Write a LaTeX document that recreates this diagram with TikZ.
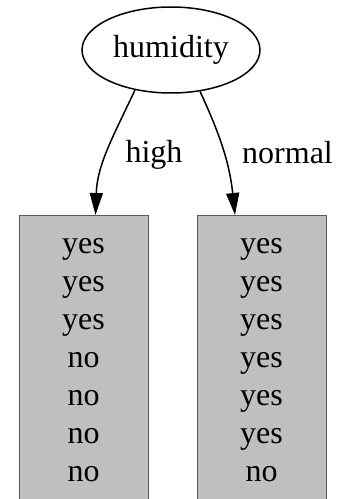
\documentclass[tikz,border=0pt]{standalone}
\usepackage{fontspec}
\setmainfont{Liberation Serif}
\usetikzlibrary{arrows.meta,positioning,shapes.geometric}

\begin{document}
\begin{tikzpicture}[
	x=1pt, y=1pt,
	attr/.style={ellipse, draw, line width=1.5pt, minimum width=178pt,
		minimum height=86pt, inner sep=0pt},
	leaf/.style={rectangle, draw=black!65, fill=black!25, line width=1pt,
		minimum width=129pt, minimum height=400pt, anchor=north},
	edge/.style={line width=1.5pt, -{Triangle[length=22pt,width=13pt]}},
	elabel/.style={inner sep=0pt},
	every node/.style={font=\fontsize{32}{38}\selectfont}]
	
	\useasboundingbox (0,0) rectangle (339,499);
	\clip (0,0) rectangle (339,499);
	
	\node[attr] (humidity) at (171,449) {humidity};
	
	\node[leaf] (high) at (83.5,284) {};
	\node[leaf] (normal) at (261.5,284) {};
	
	% leaf contents
	\foreach \w [count=\i] in {yes,yes,yes,no,no,no,no}
		\node[anchor=base, inner sep=0pt] (h\i) at (83.5,{245-(\i-1)*37.9}) {\w};
	\foreach \w [count=\i] in {yes,yes,yes,yes,yes,yes,no}
		\node[anchor=base, inner sep=0pt] (n\i) at (261.5,{245-(\i-1)*37.9}) {\w};
	
	\draw[edge] (humidity.228) to[out=245, in=88]
		node[elabel, midway, right=17pt, yshift=-4pt] {high} ([xshift=12pt]high.north);
	\draw[edge] (humidity.305) to[out=295, in=96]
		node[elabel, midway, right=18pt, yshift=-1pt] {normal} ([xshift=-26.5pt]normal.north);
	
\end{tikzpicture}
\end{document}
